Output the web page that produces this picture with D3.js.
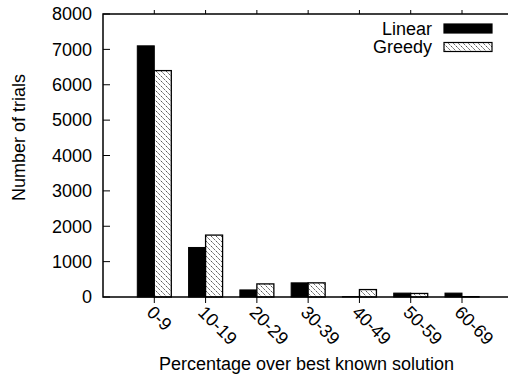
<!DOCTYPE html>
<html><head><meta charset="utf-8">
<script src="https://cdn.jsdelivr.net/npm/d3@7"></script>
<style>body{margin:0;background:#fff}svg{display:block}text{font-family:"Liberation Sans",Arial,sans-serif;fill:#000}</style>
</head><body>
<script>
const categories = ["0-9","10-19","20-29","30-39","40-49","50-59","60-69"];
const linear = [7100, 1400, 200, 400, 10, 110, 110];
const greedy = [6400, 1750, 370, 400, 210, 100, 10];
const yTicks = [0,1000,2000,3000,4000,5000,6000,7000,8000];
const seriesNames = ["Linear","Greedy"];

(function(){
const W=508,H=377;
const svg=d3.select("body").append("svg").attr("width",W).attr("height",H);
const defs=svg.append("defs");
const pat=defs.append("pattern").attr("id","hatch").attr("patternUnits","userSpaceOnUse")
  .attr("width",5).attr("height",5);
pat.append("rect").attr("width",5).attr("height",5).attr("fill","#fff");
pat.append("path").attr("d","M-1,-1 L6,6 M-1,4 L1,6 M4,-1 L6,1").attr("stroke","#000").attr("stroke-width",0.8).attr("stroke-dasharray","1.5,1");

const mL=103, mT=14, mB=297, mR=508;
const fs=18;
const y=d3.scaleLinear().domain([0,8000]).range([mB,mT]);
const x=d3.scalePoint().domain(categories).range([154.3,462]);
const bw=17;

const g=svg.append("g");
categories.forEach((c,i)=>{
  g.append("rect").attr("x",x(c)-bw).attr("y",y(linear[i])).attr("width",bw).attr("height",mB-y(linear[i]))
   .attr("fill","#000").attr("stroke","#000").attr("stroke-width",1);
  g.append("rect").attr("x",x(c)).attr("y",y(greedy[i])).attr("width",bw).attr("height",mB-y(greedy[i]))
   .attr("fill","url(#hatch)").attr("stroke","#000").attr("stroke-width",1.3);
});

svg.append("g").selectAll("line").data(yTicks).join("line")
  .attr("x1",mL).attr("x2",mL+7).attr("y1",d=>y(d)).attr("y2",d=>y(d)).attr("stroke","#000").attr("stroke-width",1);
svg.append("g").selectAll("text").data(yTicks).join("text")
  .attr("x",92).attr("y",d=>y(d)).attr("dy","0.35em").attr("text-anchor","end").attr("font-size",fs).text(d=>d);

const xt=svg.append("g");
categories.forEach(c=>{
  xt.append("line").attr("x1",x(c)).attr("x2",x(c)).attr("y1",mB).attr("y2",mB+6).attr("stroke","#000");
  xt.append("line").attr("x1",x(c)).attr("x2",x(c)).attr("y1",mT).attr("y2",mT-4).attr("stroke","#000");
  xt.append("text").attr("transform",`translate(${x(c)-4},${mB+12}) rotate(45)`).attr("text-anchor","start")
    .attr("dy","0.35em").attr("font-size",fs).text(c);
});

svg.append("path").attr("d",`M${mR},${mT} L${mL},${mT} L${mL},${mB} L${mR},${mB}`)
  .attr("fill","none").attr("stroke","#000").attr("stroke-width",1.5);

svg.append("text").attr("transform",`translate(25,137.5) rotate(-90)`).attr("text-anchor","middle")
  .attr("font-size",fs).text("Number of trials");
svg.append("text").attr("x",306.5).attr("y",370).attr("text-anchor","middle").attr("font-size",fs).text("Percentage over best known solution");

const lg=svg.append("g");
seriesNames.forEach((n,i)=>{
  const cy=28.5+i*18.5;
  lg.append("text").attr("x",432).attr("y",cy).attr("dy","0.35em").attr("text-anchor","end").attr("font-size",fs).text(n);
  lg.append("rect").attr("x",444).attr("y",cy-4.5).attr("width",48).attr("height",9)
    .attr("fill",i===0?"#000":"url(#hatch)").attr("stroke","#000").attr("stroke-width",1.2);
});
})();
</script>
</body></html>
